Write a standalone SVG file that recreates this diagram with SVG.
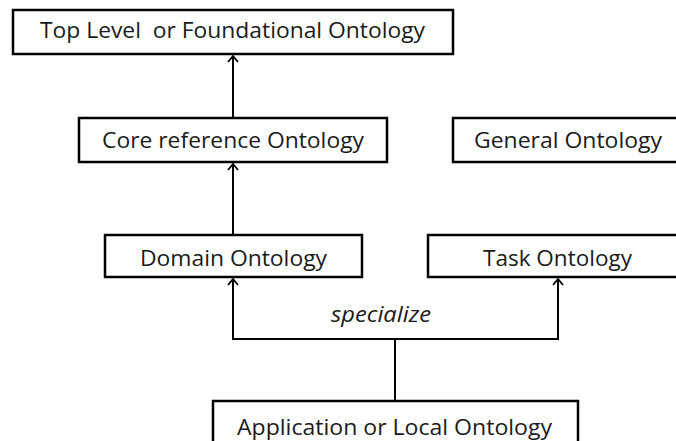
<svg xmlns="http://www.w3.org/2000/svg" width="676" height="441" viewBox="0 0 676 441">
<style>
.box{fill:#fff;stroke:#000;stroke-width:2.5}
.lbl{font-family:"Open Sans","Liberation Sans",sans-serif;font-size:21px;fill:#1a1a1a}
.con{fill:none;stroke:#000;stroke-width:2}
</style>
<defs>
<marker id="arr" viewBox="0 0 12 12" refX="11" refY="6" markerWidth="12" markerHeight="12" markerUnits="userSpaceOnUse" orient="auto-start-reverse">
<path d="M5,1 L11,6 L5,11" fill="none" stroke="#000" stroke-width="1.8"/>
</marker>
</defs>
<rect width="676" height="441" fill="#fff"/>
<g id="connectors">
<line class="con" x1="233" y1="118" x2="233" y2="56" marker-end="url(#arr)"/>
<line class="con" x1="233" y1="235" x2="233" y2="164" marker-end="url(#arr)"/>
<polyline class="con" points="233,279 233,339 558,339 558,279" marker-start="url(#arr)" marker-end="url(#arr)"/>
<line class="con" x1="395" y1="339" x2="395" y2="401"/>
<text class="lbl" x="381" y="322" text-anchor="middle" font-style="italic" textLength="100" lengthAdjust="spacingAndGlyphs">specialize</text>
</g>
<g id="top">
<rect class="box" x="13" y="10" width="440" height="44"/>
<text class="lbl" x="40" y="38" textLength="385" lengthAdjust="spacingAndGlyphs" xml:space="preserve">Top Level  or Foundational Ontology</text>
</g>
<g id="core">
<rect class="box" x="79" y="118" width="308" height="44"/>
<text class="lbl" x="102" y="148" textLength="262" lengthAdjust="spacingAndGlyphs">Core reference Ontology</text>
</g>
<g id="general">
<rect class="box" x="453" y="118" width="230" height="44"/>
<text class="lbl" x="474" y="148" textLength="188" lengthAdjust="spacingAndGlyphs">General Ontology</text>
</g>
<g id="domain">
<rect class="box" x="105" y="235" width="257" height="42"/>
<text class="lbl" x="140" y="266" textLength="187" lengthAdjust="spacingAndGlyphs">Domain Ontology</text>
</g>
<g id="task">
<rect class="box" x="428" y="235" width="255" height="42"/>
<text class="lbl" x="483" y="266" textLength="149" lengthAdjust="spacingAndGlyphs">Task Ontology</text>
</g>
<g id="application">
<rect class="box" x="213" y="401" width="365" height="60"/>
<text class="lbl" x="237" y="435" textLength="315" lengthAdjust="spacingAndGlyphs">Application or Local Ontology</text>
</g>
</svg>
